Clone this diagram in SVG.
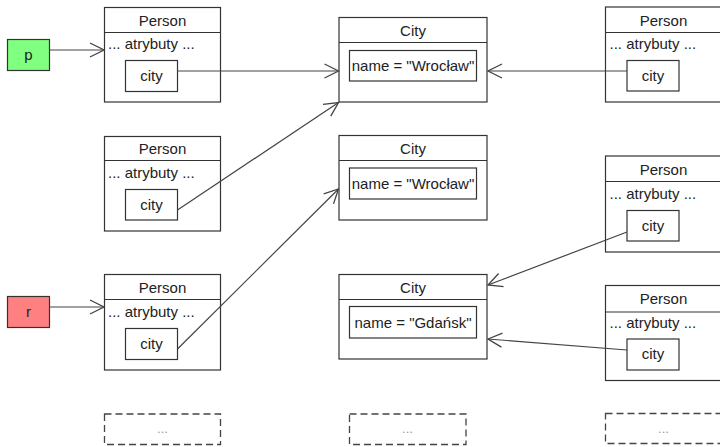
<svg xmlns="http://www.w3.org/2000/svg" width="720" height="447" viewBox="0 0 720 447">
<defs>
<style>
.box{fill:#fff;stroke:#333;stroke-width:1.2}
.dash{fill:#fff;stroke:#444;stroke-width:1.3;stroke-dasharray:7 4}
.t{font-family:"Liberation Sans",Arial,sans-serif;font-size:15px;fill:#222}
.c{text-anchor:middle}
.dots{font-family:"Liberation Sans",Arial,sans-serif;font-size:13px;fill:#999;text-anchor:middle}
.con{fill:none;stroke:#444;stroke-width:1.2}
</style>
<marker id="oa" viewBox="0 0 16 16" refX="15" refY="8" markerWidth="16" markerHeight="16" markerUnits="userSpaceOnUse" orient="auto">
<path d="M1,1 L15,8 L1,15" fill="none" stroke="#444" stroke-width="1.3"/>
</marker>
</defs>
<rect width="720" height="447" fill="#fff"/>

<g id="var-p"><rect x="7.5" y="39.5" width="42" height="31" fill="#80FF80" stroke="#333" stroke-width="1.2"/><text class="t c" x="28.5" y="60">p</text></g>
<g id="var-r"><rect x="7.5" y="296.5" width="42" height="31" fill="#FF8080" stroke="#333" stroke-width="1.2"/><text class="t c" x="28.5" y="317">r</text></g>

<g id="person-l1"><rect class="box" x="104.5" y="7.5" width="116" height="94.5"/><line class="box" x1="104.5" y1="32.5" x2="220.5" y2="32.5"/><text class="t c" x="162.5" y="25.5">Person</text><text class="t" x="108" y="49">... atrybuty ...</text><rect class="box" x="125.5" y="60.5" width="52" height="31"/><text class="t c" x="151.5" y="81">city</text></g>
<g id="person-l2"><rect class="box" x="104.5" y="136.5" width="116" height="94.5"/><line class="box" x1="104.5" y1="160.5" x2="220.5" y2="160.5"/><text class="t c" x="162.5" y="154">Person</text><text class="t" x="108" y="177.5">... atrybuty ...</text><rect class="box" x="125.5" y="189.5" width="52" height="30.5"/><text class="t c" x="151.5" y="209.5">city</text></g>
<g id="person-l3"><rect class="box" x="104.5" y="274.5" width="116" height="95.5"/><line class="box" x1="104.5" y1="299.5" x2="220.5" y2="299.5"/><text class="t c" x="162.5" y="292.5">Person</text><text class="t" x="108" y="316.5">... atrybuty ...</text><rect class="box" x="125.5" y="328.5" width="52" height="31"/><text class="t c" x="151.5" y="348.5">city</text></g>

<g id="city-1"><rect class="box" x="339" y="17.5" width="148" height="84.5"/><line class="box" x1="339" y1="42.5" x2="487" y2="42.5"/><text class="t c" x="413" y="35.5">City</text><rect class="box" x="349.5" y="50.5" width="127" height="30.5"/><text class="t c" x="413" y="71">name = "Wrocław"</text></g>
<g id="city-2"><rect class="box" x="339" y="135.5" width="148" height="84.5"/><line class="box" x1="339" y1="160.5" x2="487" y2="160.5"/><text class="t c" x="413" y="154">City</text><rect class="box" x="349.5" y="168" width="127" height="31"/><text class="t c" x="413" y="188.5">name = "Wrocław"</text></g>
<g id="city-3"><rect class="box" x="339" y="274.5" width="148" height="84.5"/><line class="box" x1="339" y1="299.5" x2="487" y2="299.5"/><text class="t c" x="413" y="292.5">City</text><rect class="box" x="349.5" y="306.5" width="127" height="31.5"/><text class="t c" x="413" y="327.5">name = "Gdańsk"</text></g>

<g id="person-r1"><rect class="box" x="605.5" y="7" width="116" height="95"/><line class="box" x1="605.5" y1="32.5" x2="721.5" y2="32.5"/><text class="t c" x="663.5" y="25.5">Person</text><text class="t" x="609.5" y="49">... atrybuty ...</text><rect class="box" x="627" y="60.5" width="52" height="30.5"/><text class="t c" x="653" y="81">city</text></g>
<g id="person-r2"><rect class="box" x="605.5" y="156" width="116" height="96"/><line class="box" x1="605.5" y1="181.5" x2="721.5" y2="181.5"/><text class="t c" x="663.5" y="175">Person</text><text class="t" x="609.5" y="198.5">... atrybuty ...</text><rect class="box" x="627" y="210.5" width="52" height="30.5"/><text class="t c" x="653" y="230.5">city</text></g>
<g id="person-r3"><rect class="box" x="605.5" y="285.5" width="116" height="95"/><line class="box" x1="605.5" y1="312" x2="721.5" y2="312"/><text class="t c" x="663.5" y="304">Person</text><text class="t" x="609.5" y="327.5">... atrybuty ...</text><rect class="box" x="627" y="339" width="52" height="31"/><text class="t c" x="653" y="359">city</text></g>

<g id="more-l"><rect class="dash" x="104.5" y="414" width="116" height="30.5"/><text class="dots" x="162.5" y="433">...</text></g>
<g id="more-m"><rect class="dash" x="349.5" y="414" width="116.5" height="30.5"/><text class="dots" x="407.5" y="433">...</text></g>
<g id="more-r"><rect class="dash" x="605.5" y="413.5" width="116" height="30"/><text class="dots" x="663.5" y="432.5">...</text></g>

<g id="connectors">
<line class="con" x1="49.5" y1="50" x2="104" y2="50" marker-end="url(#oa)"/>
<line class="con" x1="49.5" y1="307" x2="104" y2="307" marker-end="url(#oa)"/>
<line class="con" x1="177.5" y1="71" x2="338.5" y2="71" marker-end="url(#oa)"/>
<line class="con" x1="627" y1="71" x2="488" y2="71" marker-end="url(#oa)"/>
<line class="con" x1="177.5" y1="210" x2="338.5" y2="102.5" marker-end="url(#oa)"/>
<line class="con" x1="177.5" y1="349" x2="338.5" y2="189" marker-end="url(#oa)"/>
<line class="con" x1="627" y1="232" x2="488" y2="285" marker-end="url(#oa)"/>
<line class="con" x1="627" y1="350" x2="488" y2="339" marker-end="url(#oa)"/>
</g>
</svg>
